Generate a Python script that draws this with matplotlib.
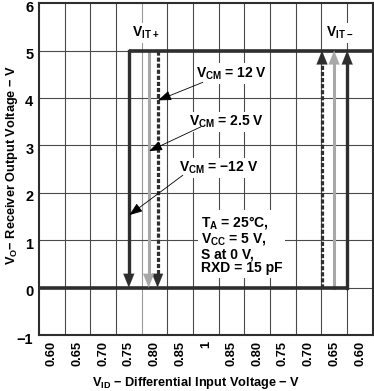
import matplotlib
matplotlib.use('Agg')
import matplotlib.pyplot as plt
import matplotlib.transforms as mtransforms

plt.rcParams['font.family'] = ['Liberation Sans', 'DejaVu Sans']
plt.rcParams['font.weight'] = 'bold'
plt.rcParams['mathtext.fontset'] = 'custom'
plt.rcParams['mathtext.rm'] = 'Liberation Sans:bold'
plt.rcParams['mathtext.default'] = 'regular'

# category ticks along the x axis (one cell each)
x_labels = ['0.60', '0.65', '0.70', '0.75', '0.80', '0.85', '1',
            '0.85', '0.80', '0.75', '0.70', '0.65', '0.60']
y_ticks = [-1, 0, 1, 2, 3, 4, 5, 6]

# switching points, in cell units: V_CM = 12 V, 2.5 V, -12 V
vcm_names = ['12 V', '2.5 V', '\u221212 V']
vit_plus = [4.62, 4.27, 3.50]
vit_minus = [11.02, 11.49, 12.00]
vo_high = 5
vo_low = 0

DARK = '#2e2e2e'
GRAY = '#a8a8a8'
GRID = '#4a4a4a'

fig = plt.figure(figsize=(3.74, 3.91), dpi=100)
ax = fig.add_axes([0.104, 0.143, 0.893, 0.849])
ax.set_xlim(0, len(x_labels))
ax.set_ylim(-1, 6)

# grid at cell borders
for i in range(1, len(x_labels)):
    ax.axvline(i, color='#9a9a9a' if i == 4 else GRID, lw=0.8, zorder=1)
for y in y_ticks[1:-1]:
    ax.axhline(y, color=GRID, lw=0.8, zorder=1)

ax.set_xticks([i + 0.5 for i in range(len(x_labels))])
ax.set_xticklabels(x_labels, rotation=90, fontsize=9.3)
ax.set_yticks(y_ticks)
ax.set_yticklabels([str(v).replace('-', '\u2212') for v in y_ticks], fontsize=10.5)
ax.tick_params(length=0, pad=4)
shift = mtransforms.ScaledTranslation(0, -3 / 100, fig.dpi_scale_trans)
for lab in ax.get_yticklabels():
    lab.set_transform(lab.get_transform() + shift)
for s in ax.spines.values():
    s.set_color(DARK)
    s.set_linewidth(1.5)

styles = [dict(color=DARK, ls=(0, (1.3, 0.6)), lw=2.3),
          dict(color=GRAY, ls='-', lw=2.2),
          dict(color=DARK, ls='-', lw=2.4)]


def head(x, y0, y1, color):
    ax.annotate('', xy=(x, y1), xytext=(x, y0),
                arrowprops=dict(arrowstyle='-|>,head_length=0.55,head_width=0.22',
                                color=color, lw=0.1, mutation_scale=18,
                                shrinkA=0, shrinkB=0), zorder=5)


for xp, xm, st in zip(vit_plus, vit_minus, styles):
    ax.plot([xp, xp], [vo_high, vo_low + 0.2], zorder=3, **st)
    ax.plot([xm, xm], [vo_low, vo_high - 0.2], zorder=3, **st)
    head(xp, vo_low + 0.3, vo_low, st['color'])
    head(xm, vo_high - 0.3, vo_high, st['color'])

# main (V_CM = -12 V) transfer curve
ax.plot([0, vit_minus[2]], [vo_low, vo_low], color=DARK, lw=2.6, zorder=4,
        solid_capstyle='butt')
ax.plot([vit_plus[2], len(x_labels)], [vo_high, vo_high], color=DARK, lw=2.6,
        zorder=4, solid_capstyle='butt', clip_on=False)

box = dict(fc='white', ec='none', pad=1.5)
ax.text(4.15, 5.37, 'V$_{IT+}$', ha='center', va='center', fontsize=10,
        bbox=box, zorder=6)
ax.text(11.7, 5.37, 'V$_{IT\u2212}$', ha='center', va='center', fontsize=10,
        bbox=box, zorder=6)

text_pos = [(6.11, 4.52), (5.83, 3.49), (5.44, 2.52)]
arrow_from = [(6.38, 4.33), (6.30, 3.39), (5.60, 2.37)]
arrow_to = [(4.64, 3.95), (4.29, 2.88), (3.52, 1.53)]
for name, tp, a0, a1 in zip(vcm_names, text_pos, arrow_from, arrow_to):
    ax.text(tp[0], tp[1], 'V$_{CM}$ = ' + name, ha='left', va='center',
            fontsize=10, bbox=box, zorder=6)
    ax.annotate('', xy=a1, xytext=a0,
                arrowprops=dict(arrowstyle='-|>,head_length=0.8,head_width=0.3',
                                color='black', lw=0.6, mutation_scale=10,
                                shrinkA=0, shrinkB=0), zorder=7)

ax.text(6.3, 1.55, 'T$_{A}$ = 25\u00b0C,\nV$_{CC}$ = 5 V,\nS at 0 V,\nRXD = 15 pF',
        ha='left', va='top', fontsize=10, linespacing=1.0,
        bbox=dict(fc='white', ec='none', pad=2), zorder=6)

fig.text(196 / 374, 1 - 383 / 391, 'V$_{ID}$ \u2212 Differential Input Voltage \u2212 V',
         ha='center', va='center', fontsize=9.2)
fig.text(12 / 374, 1 - 165 / 391, 'V$_{O}$\u2212 Receiver Output Voltage \u2212 V',
         ha='center', va='center', rotation=90, fontsize=9.2)

fig.savefig('out.png', dpi=100)
